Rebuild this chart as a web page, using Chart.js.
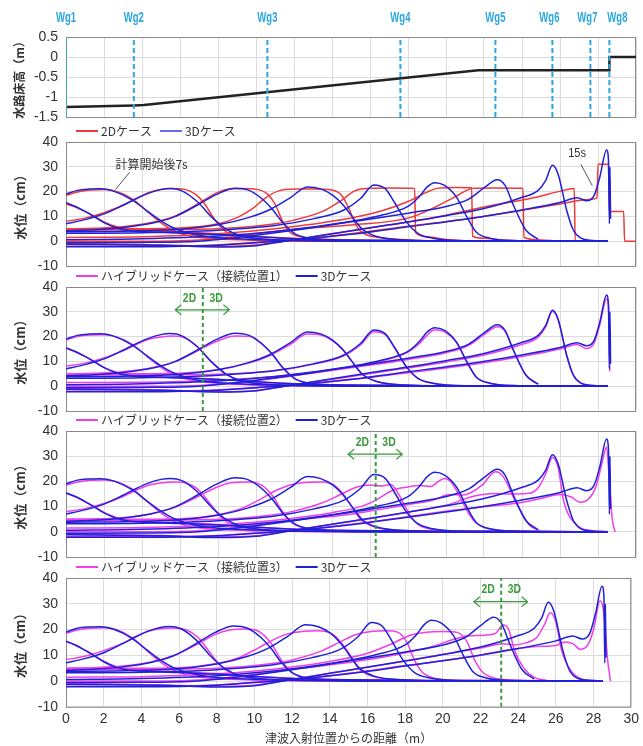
<!DOCTYPE html>
<html>
<head>
<meta charset="utf-8">
<script src="https://cdn.jsdelivr.net/npm/chart.js@4.4.0/dist/chart.umd.min.js"></script>
<style>
  body { margin: 0; background: #fff; }
  canvas { position: absolute; left: 0; }
</style>
</head>
<body>
<canvas id="bed-chart" width="643" height="134" style="top:0"></canvas>
<canvas id="case2d-chart" width="643" height="162" style="top:121px"></canvas>
<canvas id="hyb1-chart" width="643" height="161" style="top:267px"></canvas>
<canvas id="hyb2-chart" width="643" height="162" style="top:412px"></canvas>
<canvas id="hyb3-chart" width="643" height="188" style="top:558px"></canvas>
<script>
// flume bed (m)
const bedX = [0, 3.6, 4.1, 21.7, 28.6, 28.6, 30];
const bedY = [-1.25, -1.21, -1.2, -0.33, -0.33, 0, 0];
const gaugeNames = ["Wg1", "Wg2", "Wg3", "Wg4", "Wg5", "Wg6", "Wg7", "Wg8"];
const gaugeX = [0, 3.57, 10.6, 17.6, 22.6, 25.6, 27.6, 28.6];
// 2D / 3D connection positions (m)
const joints = [7.2, 16.3, 23.1];

// water level snapshots t = 6 ... 15 s, [distance m, level cm]
// 3D case
const d3_06 = [[0,15.5],[0.5,14],[1,12],[1.5,9.8],[2,7.5],[2.6,5.5],[3.3,4.3],[4.5,3.7],[6,3.3],[8,2.7],[10,1.8],[12,1],[15,0.5],[20,0.2],[28.5,0]];
const d3_07 = [[0,19],[0.6,20.5],[1.2,21],[1.8,21.1],[2.5,20.2],[3.5,16.6],[4.3,12],[5,8.2],[5.7,5.2],[6.5,3.2],[7.5,1.8],[9,1],[11,0.5],[14,0.2],[20,0],[28.5,0]];
const d3_08 = [[0,7],[1,8.7],[2,11],[3,14.5],[3.6,16.8],[4.3,19.2],[5,20.8],[5.5,21.2],[6.1,20.3],[6.9,16],[7.7,9.5],[8.4,5],[9.2,2.2],[10.5,0.8],[13,0.2],[18,0],[28.5,0]];
const d3_09 = [[0,4.2],[1.5,4.6],[3,5.5],[4.5,7.2],[5.7,9.8],[6.9,14.5],[7.9,18.8],[8.9,21.4],[9.6,20.6],[10.3,17.2],[10.9,12.5],[11.4,7.5],[12,3.3],[12.7,1.3],[14,0.4],[17,0],[28.5,0]];
const d3_10 = [[0,3.8],[3,4],[6,4.8],[8,6.6],[9.6,9.5],[10.8,13],[11.8,17.5],[12.7,21.9],[13.4,21.1],[14.05,18.5],[14.6,14.5],[15,10.5],[15.6,4.8],[16.4,1.8],[17.8,0.5],[21,0],[28.5,0]];
const d3_11 = [[0,3.2],[4,3.4],[8,4.4],[11,6.3],[13,9],[14.6,12.5],[15.5,17.2],[16.2,22.7],[16.8,21.2],[17.3,15.5],[17.9,8],[18.5,3.3],[19.3,1.2],[21,0.2],[28.5,0]];
const d3_12 = [[0,0.6],[4,1],[8,2.1],[11,3.9],[14,6.8],[16.5,10.3],[18,14],[18.6,18],[19,21.8],[19.4,23.6],[19.9,22.6],[20.55,17.8],[21.1,9.8],[21.6,3.6],[22.3,1.2],[23.5,0.3],[28.5,0]];
const d3_13 = [[0,-0.6],[4,-0.5],[7,0],[9,1.5],[12,4.4],[15,7.8],[18,11.3],[20,14],[21.2,17],[22,21.5],[22.7,24.8],[23.1,22.6],[23.55,14.5],[24.2,4.5],[24.85,0.8]];
const d3_14 = [[0,-1.2],[5,-1.6],[8,-2.3],[10,-1.8],[11.5,0],[14,3],[17,6.6],[20,10.3],[22,13.2],[23.9,17.4],[24.85,20.5],[25.25,24.5],[25.6,30.6],[25.9,27],[26.35,12.5],[26.7,4.5],[27.1,1.2],[27.7,0.3],[28.5,0]];
const d3_15 = [[0,-2.2],[4,-2.2],[8,-1.6],[10,-0.6],[12,0.5],[15,2.8],[18,5.8],[21.8,9.8],[24,12.6],[26,15.6],[26.9,17.5],[27.4,16.3],[27.8,18.5],[28.1,26],[28.45,36.8],[28.55,33],[28.6,7],[28.63,30],[28.66,9]];

// 2D case
const r_06 = [[0,15],[0.5,13.8],[1,12],[1.5,10],[2,7.8],[2.6,6],[3.3,4.8],[4.5,4.2],[6,3.8],[8,3],[10,2],[12,1.2],[15,0.5],[20,0.1],[28.5,0]];
const r_07 = [[0,18.5],[0.6,19.8],[1.3,20.6],[2,20.8],[2.7,20],[3.5,17],[4.2,12.5],[4.9,8],[5.6,4.5],[6.3,2.5],[7.5,1.2],[9.5,0.5],[13,0.1],[20,0],[28.5,0]];
const r_08 = [[0,8],[1,9.3],[2,11.5],[3,14.5],[3.6,16.8],[4.3,19.5],[4.9,20.8],[5.5,21.3],[6.2,21],[6.8,19],[7.3,15],[7.8,9],[8.3,4.5],[8.8,2.5],[9.8,1.2],[11.5,0.4],[14,0],[28.5,0]];
const r_09 = [[0,5],[1.5,5.2],[3,5.8],[4.5,7.5],[5.7,10],[6.9,14.8],[7.8,19],[8.5,21],[9.3,21.3],[10,21],[10.6,19],[11,15],[11.4,8],[11.8,3.5],[12.4,1.8],[13.5,0.7],[16,0.1],[28.5,0]];
const r_10 = [[0,5],[3,5],[6,5.3],[8,7],[9,9.5],[9.8,13],[10.5,17.5],[11.2,20.3],[12,21],[13,21],[14,20.6],[14.5,18.5],[14.9,13],[15.3,6],[15.7,3],[16.5,1.5],[18,0.5],[21,0],[28.5,0]];
const r_11 = [[0,4.5],[4,4.6],[8,5],[10.5,6.5],[12,8.5],[13.5,12],[14.5,16.5],[15.2,20.3],[16,21.3],[17,21.5],[18.35,21.3],[18.4,3.5],[19,1.8],[20,0.7],[22,0],[28.5,0]];
const r_12 = [[0,1.5],[4,1.8],[8,3],[11,5],[14,8],[16.5,12],[18,16],[19,19.8],[19.6,21.4],[20.5,21.7],[21.35,21.6],[21.4,2],[22,1.2],[23,0.5],[25,0],[28.5,0]];
const r_13 = [[0,0],[4,0],[7,0.5],[9,2],[12,4.8],[15,6.5],[18.1,9.5],[19.5,14],[20.5,18],[21.4,21.3],[22.5,21.5],[24.05,21.4],[24.1,1.5],[25,0.5],[26,0],[28.5,0]];
const r_14 = [[0,-1],[5,-1.5],[8,-2],[10,-1.5],[11.5,0],[14,3],[17,6.5],[20,10.5],[21.8,13.5],[24.6,17.5],[26.2,20.5],[26.75,21.2],[26.8,0],[28.5,0]];
const r_15 = [[0,-2],[4,-2],[8,-1.5],[10,-0.5],[12,0.5],[15,3],[18,6],[21.8,9.8],[24,12.5],[26,15],[27.5,16.8],[27.95,17.5],[28,31],[28.55,31],[28.6,12],[29.35,12],[29.4,0],[30,0]];

// hybrid case, connection 1
const h1_06 = [[0,15.2],[0.5,13.8],[1,12],[1.5,9.9],[2,7.6],[2.6,5.7],[3.3,4.5],[4.5,3.9],[6,3.5],[8,2.8],[10,1.8],[12,1],[15,0.5],[20,0.2],[28.5,0]];
const h1_07 = [[0,18.6],[0.6,20],[1.3,20.6],[2,20.7],[2.7,19.8],[3.5,16.8],[4.2,12.4],[4.9,8.2],[5.6,4.8],[6.4,2.8],[7.5,1.5],[9.5,0.6],[13,0.1],[20,0],[28.5,0]];
const h1_08 = [[0,8],[1,9.3],[2,11.4],[3,14.3],[3.6,16.5],[4.3,18.8],[5,19.8],[5.6,20.2],[6.2,19.6],[6.9,16],[7.7,9.5],[8.4,5],[9.2,2.2],[10.5,0.8],[13,0.2],[18,0],[28.5,0]];
const h1_09 = [[0,5],[1.5,5.2],[3,5.8],[4.5,7.4],[5.7,9.8],[6.9,14.2],[7.9,18],[8.9,20.2],[9.7,20],[10.3,17],[10.9,12.5],[11.4,7.5],[12,3.3],[12.7,1.3],[14,0.4],[17,0],[28.5,0]];
const h1_10 = [[0,5],[3,5],[6,5.2],[8,6.6],[9.6,9.3],[10.8,12.6],[11.8,16.8],[12.7,21],[13.4,20.6],[14.05,18.2],[14.6,14.5],[15,10.5],[15.6,4.8],[16.4,1.8],[17.8,0.5],[21,0],[28.5,0]];
const h1_11 = [[0,4.5],[4,4.6],[8,4.8],[11,6.2],[13,8.8],[14.6,12.2],[15.5,16.6],[16.2,22],[16.8,20.8],[17.3,15.5],[17.9,8],[18.5,3.3],[19.3,1.2],[21,0.2],[28.5,0]];
const h1_12 = [[0,1.5],[4,1.6],[8,2.4],[11,3.9],[14,6.6],[16.5,10],[18,13.8],[18.6,17.2],[19,20.5],[19.4,22.8],[19.9,22],[20.55,17.6],[21.1,9.8],[21.6,3.6],[22.3,1.2],[23.5,0.3],[28.5,0]];
const h1_13 = [[0,0],[4,0],[7,0.3],[9,1.4],[12,4.2],[15,7.4],[18,10.8],[20,13.5],[21.2,16.5],[22,20.8],[22.7,24],[23.1,22.2],[23.55,14.5],[24.2,4.5],[24.85,0.8]];
const h1_14 = [[0,-1],[5,-1.5],[8,-2.2],[10,-1.8],[11.5,0],[14,2.8],[17,6.2],[20,9.8],[22,12.6],[23.9,16.6],[24.85,19.8],[25.25,24],[25.6,30.2],[25.9,26.8],[26.35,12.5],[26.7,4.5],[27.1,1.2],[27.7,0.3],[28.5,0]];
const h1_15 = [[0,-2],[4,-2],[8,-1.5],[10,-0.6],[12,0.4],[15,2.6],[18,5.4],[21.8,9.3],[24,12],[26,15],[26.9,16.8],[27.4,15.2],[27.8,17.5],[28.1,25],[28.45,35.2],[28.55,32],[28.62,6]];

// hybrid case, connection 2
const h2_06 = [[0,15.2],[0.5,13.9],[1,12],[1.5,10],[2,7.7],[2.6,5.8],[3.3,4.6],[4.5,4],[6,3.6],[8,2.9],[10,1.9],[12,1.1],[15,0.5],[20,0.1],[28.5,0]];
const h2_07 = [[0,18.5],[0.6,19.8],[1.3,20.5],[2,20.6],[2.7,19.8],[3.5,16.9],[4.2,12.5],[4.9,8],[5.6,4.6],[6.3,2.6],[7.5,1.2],[9.5,0.5],[13,0.1],[20,0],[28.5,0]];
const h2_08 = [[0,8],[1,9.2],[2,11.2],[3,14],[3.6,16.2],[4.3,18.4],[5,19.4],[5.7,19.8],[6.4,19.2],[7,16.5],[7.6,11],[8.2,5.5],[8.8,2.6],[9.8,1.2],[11.5,0.4],[14,0],[28.5,0]];
const h2_09 = [[0,5],[1.5,5.1],[3,5.6],[4.5,7.2],[5.7,9.6],[6.9,13.8],[7.9,17.6],[8.7,19.5],[9.6,19.8],[10.3,18.5],[10.9,14],[11.4,8],[11.9,3.5],[12.5,1.6],[13.7,0.6],[16,0.1],[28.5,0]];
const h2_10 = [[0,5],[3,5],[6,5.2],[8,6.8],[9.2,9.2],[10.2,12.8],[11,16.2],[11.8,18.6],[12.6,19.6],[13.4,19.8],[14.1,18.6],[14.6,14.8],[15,10.5],[15.5,5],[16.2,2],[17.6,0.6],[21,0],[28.5,0]];
const h2_11 = [[0,4.5],[4,4.6],[8,5],[10.5,6.4],[12,8.2],[13.5,11.5],[14.5,15],[15.3,17.8],[16,18.6],[16.6,18.2],[17.1,18.8],[17.5,15],[17.8,10.8],[18.2,5.5],[18.6,2.6],[19.3,1],[21,0.2],[28.5,0]];
const h2_12 = [[0,1.5],[4,1.7],[8,2.8],[11,4.6],[14,7.6],[15.5,10],[16.3,12.5],[17.2,16.5],[18,17.8],[18.6,18.4],[19.2,18],[19.6,20],[19.9,21.2],[20.3,19.5],[20.9,11.4],[21.3,6],[21.6,3.4],[22.3,1.2],[23.5,0.3],[28.5,0]];
const h2_13 = [[0,0],[4,0],[7,0.4],[9,1.8],[12,4.6],[15,7],[16.3,8.6],[18,10.8],[19.3,12.5],[20.2,14.8],[20.9,14.6],[21.3,15.5],[21.9,18.5],[22.6,23.8],[23,22],[23.7,11.4],[24.4,2.6],[24.9,0.5]];
const h2_14 = [[0,-1],[5,-1.5],[8,-2],[10,-1.6],[11.5,0],[14,3],[16.3,5.6],[18,7.8],[20,10.5],[21.5,14.2],[22.5,15.2],[23.5,15],[24.4,15.3],[24.9,18],[25.3,24],[25.6,29.5],[25.9,25.5],[26.2,12],[26.9,2.6],[27.6,0.5],[28.5,0]];
const h2_15 = [[0,-2],[4,-2],[8,-1.5],[10,-0.5],[12,0.5],[15,3],[16.3,4.2],[18,6],[20,8.2],[21.8,9.8],[23.7,11.3],[25,13.2],[26,14.8],[26.6,13.8],[27.05,11.7],[27.5,13],[27.9,18],[28.2,27],[28.45,33.7],[28.6,20],[28.75,5],[28.9,0]];

// hybrid case, connection 3
const h3_06 = [[0,15.3],[0.5,13.9],[1,12],[1.5,10],[2,7.7],[2.6,5.8],[3.3,4.6],[4.5,4],[6,3.6],[8,2.9],[10,1.9],[12,1.1],[15,0.5],[20,0.1],[28.5,0]];
const h3_07 = [[0,18.5],[0.6,19.8],[1.3,20.5],[2,20.7],[2.7,19.9],[3.5,16.9],[4.2,12.5],[4.9,8],[5.6,4.6],[6.3,2.6],[7.5,1.2],[9.5,0.5],[13,0.1],[20,0],[28.5,0]];
const h3_08 = [[0,8.3],[1,9.6],[2,11.8],[3,14.6],[3.6,16.8],[4.3,19.2],[5,20.3],[5.7,20.6],[6.4,19.8],[7,17],[7.6,11.5],[8.2,6],[8.8,2.8],[9.8,1.3],[11.5,0.4],[14,0],[28.5,0]];
const h3_09 = [[0,5],[1.5,5.2],[3,5.8],[4.5,7.4],[5.7,9.8],[6.9,14],[7.9,18],[8.7,19.8],[9.6,20.2],[10.3,19],[10.9,14.5],[11.4,8.5],[11.9,3.8],[12.5,1.7],[13.7,0.6],[16,0.1],[28.5,0]];
const h3_10 = [[0,5],[3,5],[6,5.2],[8,6.8],[9.2,9.2],[10.2,12.8],[11,16],[11.8,18.4],[12.6,19.3],[13.4,19.5],[14.1,18.4],[14.6,15],[15,11],[15.5,5.2],[16.2,2],[17.6,0.6],[21,0],[28.5,0]];
const h3_11 = [[0,4.5],[4,4.6],[8,5],[10.5,6.4],[12,8.2],[13.5,11.5],[14.5,15],[15.3,17.8],[16.2,19.2],[17,19.5],[17.6,19],[18.1,15],[18.5,8],[18.9,3.5],[19.5,1.2],[21,0.2],[28.5,0]];
const h3_12 = [[0,1.5],[4,1.7],[8,2.8],[11,4.6],[14,7.6],[16,10.8],[17.3,14.5],[18.2,17.6],[19,18.8],[20,19.2],[20.8,18.8],[21.3,15],[21.7,8],[22.1,3.5],[22.7,1.2],[24,0.3],[28.5,0]];
const h3_13 = [[0,0],[4,0],[7,0.4],[9,1.8],[12,4.6],[15,7.2],[17.5,10.2],[19.5,13.5],[20.5,16],[21.3,17.5],[22.2,17.8],[22.8,18.5],[23.2,21.8],[23.5,20],[23.8,12],[24.3,5],[24.9,1.2],[25.5,0.3]];
const h3_14 = [[0,-1],[5,-1.5],[8,-2],[10,-1.6],[11.5,0],[14,3],[17,6.5],[20,10.3],[22,12.8],[23.2,14.5],[23.8,14],[24.4,14.8],[25,17],[25.4,22],[25.7,26.5],[26,23],[26.3,12],[26.8,4],[27.3,1],[28,0.2],[28.5,0]];
const h3_15 = [[0,-2],[4,-2],[8,-1.5],[10,-0.5],[12,0.5],[15,3],[18,6],[21.8,9.8],[23.2,11.8],[24,12.6],[25,13.4],[26,13.8],[26.5,15.2],[26.9,14.5],[27.3,12.3],[27.7,14],[28,20],[28.35,31.2],[28.55,26],[28.75,8],[28.9,0]];

const case3D = [d3_06, d3_07, d3_08, d3_09, d3_10, d3_11, d3_12, d3_13, d3_14, d3_15];
const case2D = [r_06, r_07, r_08, r_09, r_10, r_11, r_12, r_13, r_14, r_15];
const caseH1 = [h1_06, h1_07, h1_08, h1_09, h1_10, h1_11, h1_12, h1_13, h1_14, h1_15];
const caseH2 = [h2_06, h2_07, h2_08, h2_09, h2_10, h2_11, h2_12, h2_13, h2_14, h2_15];
const caseH3 = [h3_06, h3_07, h3_08, h3_09, h3_10, h3_11, h3_12, h3_13, h3_14, h3_15];

const NUM_FONT = "'Liberation Sans', Arial, sans-serif";
const JP_FONT = "'Noto Sans CJK JP', 'Noto Sans', sans-serif";
const RED = "#ee3a3a";
const BLUE = "#2020d8";
const PINK = "#ee3fea";
const CYAN = "#2aa8e2";
const GREEN = "#3b9b3b";
// small horizontal nudges (px) so the last gauge names don't collide
const tagNudge = [0, 0, 0, 0, 0, -3, -3, 8];

// draw text squeezed horizontally (the original uses a narrow face)
function narrowText(ctx, text, x, y, squeeze) {
  ctx.save();
  ctx.translate(x, y);
  ctx.scale(squeeze, 1);
  ctx.fillText(text, 0, 0);
  ctx.restore();
}

// frame, legend, labels and arrows drawn on top of the chart area
const decor = {
  id: "decor",
  beforeDatasetsDraw(chart) {
    const { ctx, chartArea: a } = chart;
    ctx.save();
    ctx.strokeStyle = "#8a8a8a";
    ctx.lineWidth = 1;
    ctx.strokeRect(a.left + 0.5, a.top + 0.5, a.right - a.left - 1, a.bottom - a.top);
    ctx.restore();
  },
  afterDatasetsDraw(chart, args, o) {
    const { ctx, chartArea: a } = chart;
    const sx = chart.scales.x;
    const sy = chart.scales.y;
    ctx.save();
    ctx.textBaseline = "middle";

    // legend row
    let cx = a.left + 10;
    const ly = a.top - 11;
    ctx.font = "12px " + JP_FONT;
    ctx.textAlign = "left";
    (o.items || []).forEach((it) => {
      ctx.strokeStyle = it.color;
      ctx.lineWidth = 2;
      ctx.beginPath();
      ctx.moveTo(cx, ly);
      ctx.lineTo(cx + 22, ly);
      ctx.stroke();
      ctx.fillStyle = "#333";
      ctx.fillText(it.text, cx + 25, ly);
      cx += 25 + ctx.measureText(it.text).width + 8;
    });

    // gauge names above the plot
    ctx.font = "bold 14px " + NUM_FONT;
    ctx.textAlign = "center";
    (o.tags || []).forEach((t) => {
      ctx.fillStyle = CYAN;
      narrowText(ctx, t.text, sx.getPixelForValue(t.x) + (t.dx || 0), a.top - 19, 0.68);
    });

    // text notes with pointer lines
    (o.notes || []).forEach((n) => {
      ctx.font = n.font;
      ctx.fillStyle = n.color;
      ctx.textAlign = n.align || "center";
      narrowText(ctx, n.text, sx.getPixelForValue(n.x), sy.getPixelForValue(n.y), n.squeeze || 1);
      if (n.from) {
        ctx.strokeStyle = "#555";
        ctx.lineWidth = 1;
        ctx.beginPath();
        ctx.moveTo(sx.getPixelForValue(n.from[0]), sy.getPixelForValue(n.from[1]));
        ctx.lineTo(sx.getPixelForValue(n.to[0]), sy.getPixelForValue(n.to[1]));
        ctx.stroke();
      }
    });

    // double headed arrows
    (o.arrows || []).forEach((r) => {
      const x1 = sx.getPixelForValue(r.x1);
      const x2 = sx.getPixelForValue(r.x2);
      const y = sy.getPixelForValue(r.y);
      ctx.strokeStyle = GREEN;
      ctx.lineWidth = 1.2;
      ctx.beginPath();
      ctx.moveTo(x1, y);
      ctx.lineTo(x2, y);
      ctx.moveTo(x1 + 6, y - 5);
      ctx.lineTo(x1, y);
      ctx.lineTo(x1 + 6, y + 5);
      ctx.moveTo(x2 - 6, y - 5);
      ctx.lineTo(x2, y);
      ctx.lineTo(x2 - 6, y + 5);
      ctx.stroke();
    });
    ctx.restore();
  },
};

function curves(list, color, order) {
  return list.map((d) => ({
    data: d,
    borderColor: color,
    borderWidth: 1.5,
    pointRadius: 0,
    cubicInterpolationMode: "monotone",
    fill: false,
    order,
  }));
}

function vline(xv, ymin, ymax, color, width, dash) {
  return {
    data: [[xv, ymin], [xv, ymax]],
    borderColor: color,
    borderWidth: width,
    borderDash: dash,
    pointRadius: 0,
    order: -1,
  };
}

function makeOptions(cfg) {
  return {
    responsive: false,
    animation: false,
    devicePixelRatio: 1,
    layout: { padding: { left: 0, right: 7, top: cfg.top, bottom: cfg.bottom } },
    plugins: {
      legend: { display: false },
      tooltip: { enabled: false },
      decor: cfg.decor,
    },
    scales: {
      x: {
        type: "linear",
        min: 0,
        max: 30,
        ticks: {
          stepSize: 2,
          display: !!cfg.showX,
          color: "#333",
          padding: 4,
          maxRotation: 0,
          font: { family: NUM_FONT, size: 14 },
        },
        grid: { color: "#dcdcdc", drawTicks: false },
        border: { display: false },
        title: {
          display: !!cfg.showX,
          text: "津波入射位置からの距離（m）",
          color: "#333",
          padding: { top: 0, bottom: 0 },
          font: { family: JP_FONT, size: 12 },
        },
      },
      y: {
        min: cfg.ymin,
        max: cfg.ymax,
        afterFit(s) {
          s.width = 66;
        },
        ticks: {
          stepSize: cfg.step,
          autoSkip: false,
          color: "#333",
          padding: 8,
          font: { family: NUM_FONT, size: 14 },
          callback: (v) => String(Math.round(v * 10) / 10),
        },
        grid: { color: "#dcdcdc", drawTicks: false },
        border: { display: false },
        title: {
          display: true,
          text: cfg.title,
          color: "#333",
          padding: { top: 12, bottom: 0 },
          font: { family: JP_FONT, size: cfg.titleSize || 13, weight: "bold" },
        },
      },
    },
  };
}

// panel 1: flume bed with wave gauges
new Chart(document.getElementById("bed-chart"), {
  type: "line",
  data: {
    datasets: [
      {
        data: bedX.map((x, i) => [x, bedY[i]]),
        borderColor: "#222",
        borderWidth: 2.5,
        pointRadius: 0,
        order: 0,
      },
      ...gaugeX.map((g) => vline(g, -1.5, 0.5, CYAN, 2, [5, 3])),
    ],
  },
  options: makeOptions({
    ymin: -1.5,
    ymax: 0.5,
    step: 0.5,
    title: "水路床高（m）",
    titleSize: 12,
    top: 37,
    bottom: 17,
    decor: { tags: gaugeNames.map((n, i) => ({ text: n, x: gaugeX[i], dx: tagNudge[i] })) },
  }),
  plugins: [decor],
});

// panel 2: 2D vs 3D
new Chart(document.getElementById("case2d-chart"), {
  type: "line",
  data: { datasets: [...curves(case3D, BLUE, 0), ...curves(case2D, RED, 1)] },
  options: makeOptions({
    ymin: -10,
    ymax: 40,
    step: 10,
    title: "水位（cm）",
    top: 21,
    bottom: 17,
    decor: {
      items: [
        { text: "2Dケース", color: RED },
        { text: "3Dケース", color: "#6a6af0" },
      ],
      notes: [
        { text: "計算開始後7s", x: 2.6, y: 31, align: "left", color: "#333", font: "12px " + JP_FONT, from: [3.35, 27.8], to: [2.6, 20.8] },
        { text: "15s", x: 26.9, y: 35.2, align: "center", color: "#333", font: "13px " + NUM_FONT, squeeze: 0.85, from: [27.1, 31], to: [27.7, 22.4] },
      ],
    },
  }),
  plugins: [decor],
});

// panels 3-5: hybrid vs 3D
const hybridPanels = [
  { id: "hyb1-chart", data: caseH1, joint: joints[0], label: "ハイブリッドケース（接続位置1）", top: 20, bottom: 17, showX: false },
  { id: "hyb2-chart", data: caseH2, joint: joints[1], label: "ハイブリッドケース（接続位置2）", top: 19, bottom: 17, showX: false },
  { id: "hyb3-chart", data: caseH3, joint: joints[2], label: "ハイブリッドケース（接続位置3）", top: 20, bottom: 0, showX: true },
];

hybridPanels.forEach((p) => {
  new Chart(document.getElementById(p.id), {
    type: "line",
    data: {
      datasets: [
        vline(p.joint, -10, 40, GREEN, 2, [4, 3]),
        ...curves(case3D, BLUE, 0),
        ...curves(p.data, PINK, 1),
      ],
    },
    options: makeOptions({
      ymin: -10,
      ymax: 40,
      step: 10,
      title: "水位（cm）",
      top: p.top,
      bottom: p.bottom,
      showX: p.showX,
      decor: {
        items: [
          { text: p.label, color: PINK },
          { text: "3Dケース", color: BLUE },
        ],
        notes: [
          { text: "2D", x: p.joint - 0.7, y: 35.5, color: GREEN, font: "bold 13px " + NUM_FONT, squeeze: 0.8 },
          { text: "3D", x: p.joint + 0.7, y: 35.5, color: GREEN, font: "bold 13px " + NUM_FONT, squeeze: 0.8 },
        ],
        arrows: [{ x1: p.joint - 1.45, x2: p.joint + 1.4, y: 30.8 }],
      },
    }),
    plugins: [decor],
  });
});
</script>
</body>
</html>
